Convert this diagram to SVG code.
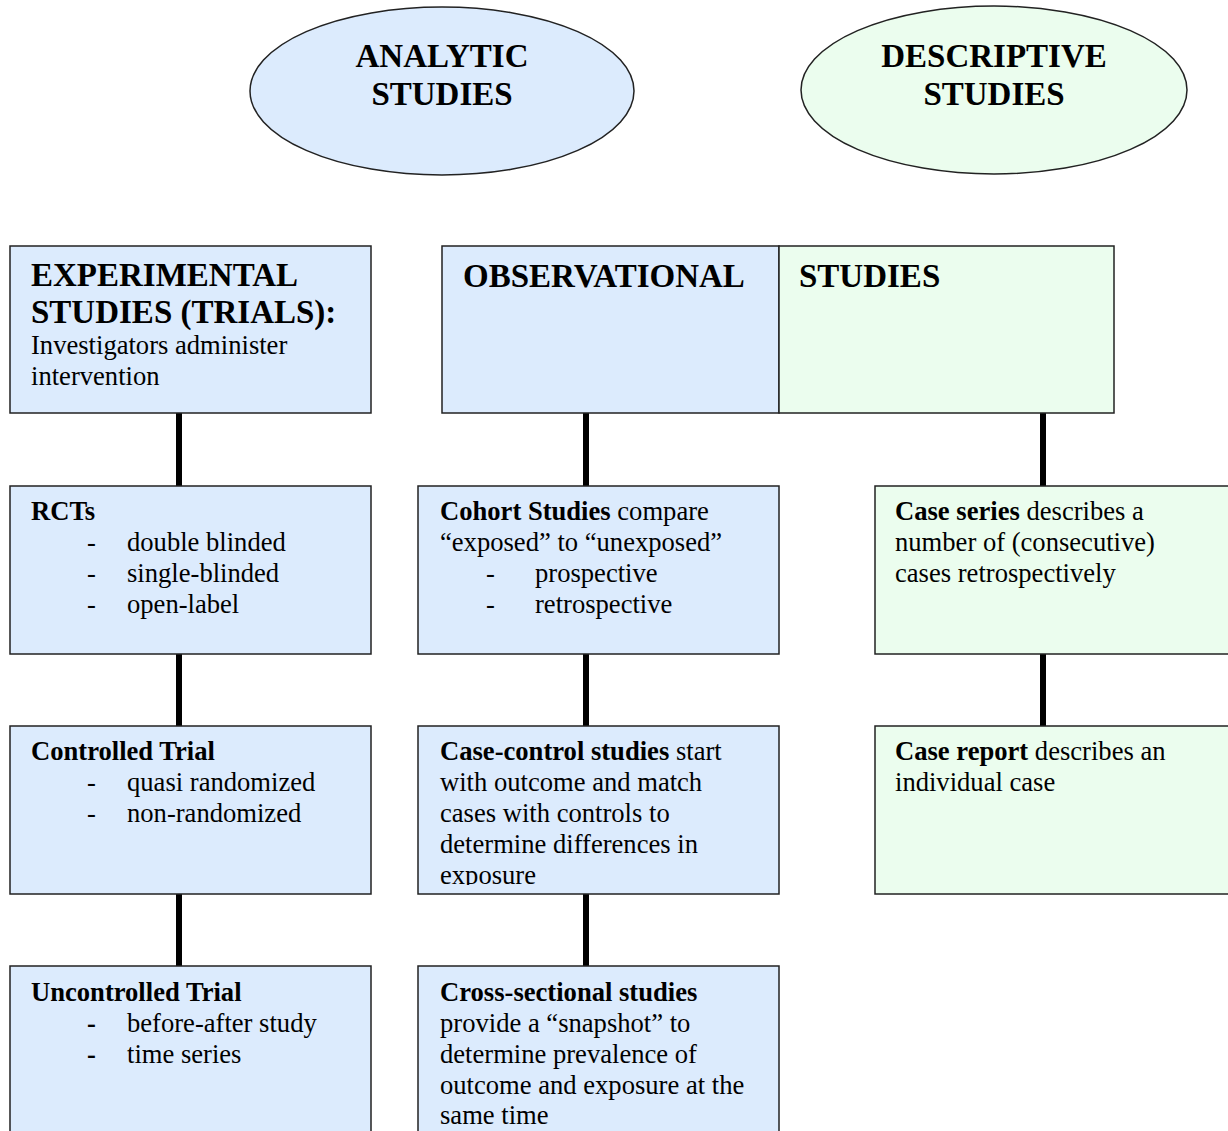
<svg xmlns="http://www.w3.org/2000/svg" width="1228" height="1131" viewBox="0 0 1228 1131">
<defs>
<style>
.blue{fill:#dcebfd;stroke:#222;stroke-width:1.5}
.green{fill:#ebfdee;stroke:#222;stroke-width:1.5}
text{font-family:"Liberation Serif","Times New Roman",serif;fill:#000}
.h{font-size:33px;font-weight:bold}
.t{font-size:26.6px}
.b{font-weight:bold}
.conn{stroke:#000;stroke-width:6;fill:none}
</style>
<clipPath id="ccclip"><rect x="418" y="726" width="361" height="159"/></clipPath>
</defs>
<rect width="1228" height="1131" fill="#fff"/>
<g id="connectors">
<line class="conn" x1="179" y1="413" x2="179" y2="486"/>
<line class="conn" x1="179" y1="654" x2="179" y2="726"/>
<line class="conn" x1="179" y1="894" x2="179" y2="966"/>
<line class="conn" x1="586" y1="413" x2="586" y2="486"/>
<line class="conn" x1="586" y1="654" x2="586" y2="726"/>
<line class="conn" x1="586" y1="894" x2="586" y2="966"/>
<line class="conn" x1="1043" y1="413" x2="1043" y2="486"/>
<line class="conn" x1="1043" y1="654" x2="1043" y2="726"/>
</g>
<g id="analytic">
<ellipse class="blue" cx="442" cy="91" rx="192" ry="84"/>
<text class="h" x="442" y="67" text-anchor="middle">ANALYTIC</text>
<text class="h" x="442" y="105" text-anchor="middle">STUDIES</text>
</g>
<g id="descriptive">
<ellipse class="green" cx="994" cy="90" rx="193" ry="84"/>
<text class="h" x="994" y="67" text-anchor="middle">DESCRIPTIVE</text>
<text class="h" x="994" y="105" text-anchor="middle">STUDIES</text>
</g>
<g id="experimental">
<rect class="blue" x="10" y="246" width="361" height="167"/>
<text class="h" x="31" y="286">EXPERIMENTAL</text>
<text class="h" x="31" y="323">STUDIES (TRIALS):</text>
<text class="t" x="31" y="354">Investigators administer</text>
<text class="t" x="31" y="385">intervention</text>
</g>
<g id="observational">
<rect class="blue" x="442" y="246" width="337" height="167"/>
<text class="h" x="463" y="287">OBSERVATIONAL</text>
</g>
<g id="studies">
<rect class="green" x="779" y="246" width="335" height="167"/>
<text class="h" x="799" y="287">STUDIES</text>
</g>
<g id="rcts">
<rect class="blue" x="10" y="486" width="361" height="168"/>
<text class="t b" x="31" y="520">RCTs</text>
<text class="t" x="87" y="551">-</text><text class="t" x="127" y="551">double blinded</text>
<text class="t" x="87" y="582">-</text><text class="t" x="127" y="582">single-blinded</text>
<text class="t" x="87" y="613">-</text><text class="t" x="127" y="613">open-label</text>
</g>
<g id="cohort">
<rect class="blue" x="418" y="486" width="361" height="168"/>
<text class="t" x="440" y="520"><tspan class="b">Cohort Studies</tspan> compare</text>
<text class="t" x="440" y="551">“exposed” to “unexposed”</text>
<text class="t" x="486" y="582">-</text><text class="t" x="535" y="582">prospective</text>
<text class="t" x="486" y="613">-</text><text class="t" x="535" y="613">retrospective</text>
</g>
<g id="caseseries">
<rect class="green" x="875" y="486" width="360" height="168"/>
<text class="t" x="895" y="520"><tspan class="b">Case series</tspan> describes a</text>
<text class="t" x="895" y="551">number of (consecutive)</text>
<text class="t" x="895" y="582">cases retrospectively</text>
</g>
<g id="controlled">
<rect class="blue" x="10" y="726" width="361" height="168"/>
<text class="t b" x="31" y="760">Controlled Trial</text>
<text class="t" x="87" y="791">-</text><text class="t" x="127" y="791">quasi randomized</text>
<text class="t" x="87" y="822">-</text><text class="t" x="127" y="822">non-randomized</text>
</g>
<g id="casecontrol">
<rect class="blue" x="418" y="726" width="361" height="168"/>
<g clip-path="url(#ccclip)">
<text class="t" x="440" y="760"><tspan class="b">Case-control studies</tspan> start</text>
<text class="t" x="440" y="791">with outcome and match</text>
<text class="t" x="440" y="822">cases with controls to</text>
<text class="t" x="440" y="853">determine differences in</text>
<text class="t" x="440" y="884">exposure</text>
</g>
</g>
<g id="casereport">
<rect class="green" x="875" y="726" width="360" height="168"/>
<text class="t" x="895" y="760"><tspan class="b">Case report</tspan> describes an</text>
<text class="t" x="895" y="791">individual case</text>
</g>
<g id="uncontrolled">
<rect class="blue" x="10" y="966" width="361" height="180"/>
<text class="t b" x="31" y="1001">Uncontrolled Trial</text>
<text class="t b" x="87" y="1032">-</text><text class="t" x="127" y="1032">before-after study</text>
<text class="t b" x="87" y="1063">-</text><text class="t" x="127" y="1063">time series</text>
</g>
<g id="crosssectional">
<rect class="blue" x="418" y="966" width="361" height="180"/>
<text class="t b" x="440" y="1001">Cross-sectional studies</text>
<text class="t" x="440" y="1032">provide a “snapshot” to</text>
<text class="t" x="440" y="1063">determine prevalence of</text>
<text class="t" x="440" y="1094">outcome and exposure at the</text>
<text class="t" x="440" y="1124">same time</text>
</g>
</svg>
